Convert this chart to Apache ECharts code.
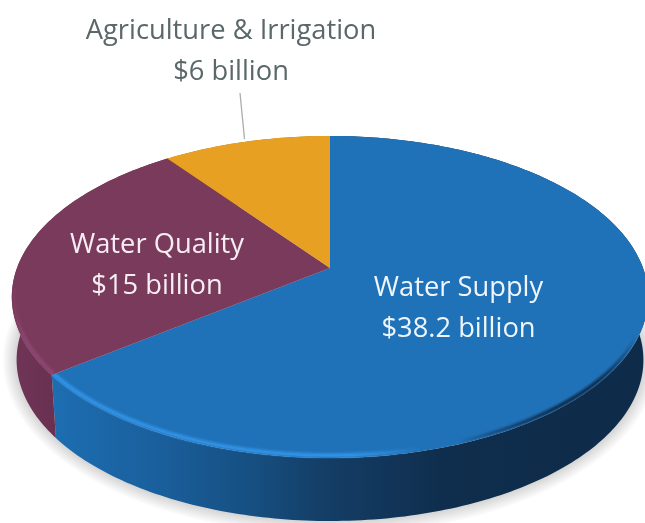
<!DOCTYPE html>
<html>
<head>
<meta charset="utf-8">
<style>html,body{margin:0;padding:0;background:#fff}#chart{width:645px;height:523px}</style>
<script src="https://cdn.jsdelivr.net/npm/echarts@6/dist/echarts.min.js"></script>
</head>
<body>
<div id="chart"></div>
<script>
// Federal water spending by purpose, in billions of dollars
const categories = ['Water Supply', 'Water Quality', 'Agriculture & Irrigation'];
const values = [38.2, 15, 6];

const topColors = ['#2072b8', '#7a3a5c', '#e8a022'];
const labelColors = ['#eef5fb', '#f6eef3', '#5b6869'];
const labelAnchors = [[458.5, 309], [157, 266], [231, 52]];

// Disc seen in perspective: a circle mapped through a projective divide
const APEX = [330, 268];
const SPREAD_X = 313, SPREAD_Y = 155.8, TILT = 0.18;
const WALL_DEPTH = 63, WALL_SHRINK = 0.985;

const total = values.reduce((a, b) => a + b, 0);
const spans = [];
values.reduce((start, v) => {
  const end = start + v / total * Math.PI * 2;
  spans.push([start, end]);
  return end;
}, 0);

function rimPoint(theta) {
  const w = 1 + TILT * Math.cos(theta);
  return [APEX[0] + SPREAD_X * Math.sin(theta) / w, APEX[1] - SPREAD_Y * Math.cos(theta) / w];
}
function floorPoint(theta) {
  const p = rimPoint(theta);
  return [APEX[0] + (p[0] - APEX[0]) * WALL_SHRINK, p[1] + WALL_DEPTH];
}
// Rim pulled slightly towards the centre, used for the bevel strokes
function bevelPoint(theta) {
  const p = rimPoint(theta);
  return [p[0] + (APEX[0] - p[0]) * 0.006, p[1] + (APEX[1] - p[1]) * 0.014];
}
function arc(a, b, fn) {
  const pts = [], n = Math.max(8, Math.ceil((b - a) * 60));
  for (let i = 0; i <= n; i++) pts.push(fn(a + (b - a) * i / n));
  return pts;
}
function band(x0, x1, stops) {
  return {
    type: 'linear', x: x0, y: 0, x2: x1, y2: 0, global: true,
    colorStops: stops.map(s => ({ offset: s[0], color: s[1] }))
  };
}

const wallFills = [
  band(50, 645, [[0, '#1d6eb2'], [0.17, '#1a609e'], [0.34, '#164f81'], [0.45, '#143f68'], [0.67, '#0f2d4c'], [1, '#0e2b49']]),
  band(10, 60, [[0, '#6f3657'], [1, '#692f50']]),
  band(160, 330, [[0, '#b87d18'], [1, '#b87d18']])
];
// Bevel colours per slice; only the slices on the near side of the disc have one
const bevels = [
  { from: Math.PI * 0.62, to: spans[0][1],
    paint: a => band(55, 645, [
      [0, `rgba(50,148,232,${a})`], [0.5, `rgba(50,148,232,${a})`], [0.62, 'rgba(50,148,232,0)'],
      [0.68, 'rgba(14,44,76,0)'], [0.85, `rgba(14,44,76,${a})`], [0.92, `rgba(14,44,76,${a})`], [0.985, 'rgba(14,44,76,0)']
    ]) },
  { from: spans[1][0], to: Math.PI * 1.46,
    paint: a => band(12, 60, [[0, 'rgba(142,70,113,0)'], [0.3, `rgba(142,70,113,${a})`], [1, `rgba(142,70,113,${a})`]]) },
  null
];

function renderWall(params) {
  const i = params.dataIndex, s = spans[i];
  const children = [];
  if (i === 0) {
    // Ground shadow built from stacked, widening translucent outlines
    const base = arc(0, Math.PI * 2, floorPoint);
    for (let step = 8; step >= 1; step--) {
      const grow = step * 1.7;
      children.push({
        type: 'polygon',
        shape: { points: base.map(p => [
          APEX[0] + (p[0] - APEX[0]) * (1 + grow / 313),
          APEX[1] + WALL_DEPTH + 29 + (p[1] - APEX[1] - WALL_DEPTH - 29) * (1 + grow / 163)
        ]) },
        style: { fill: 'rgba(40,40,36,0.022)' }
      });
    }
  }
  const outer = arc(s[0], s[1], rimPoint);
  const inner = arc(s[0], s[1], floorPoint).reverse();
  children.push({
    type: 'polygon',
    shape: { points: outer.concat(inner) },
    style: { fill: wallFills[i] }
  });
  return { type: 'group', children };
}

function renderTop(params) {
  const i = params.dataIndex, s = spans[i];
  const children = [{
    type: 'polygon',
    shape: { points: [APEX].concat(arc(s[0], s[1], rimPoint)) },
    style: { fill: topColors[i] }
  }];
  const bevel = bevels[i];
  if (bevel) {
    const pts = arc(bevel.from, bevel.to, bevelPoint);
    [[7, 0.22], [4.5, 0.4], [2.2, 0.75]].forEach(([w, a]) => {
      children.push({
        type: 'polyline',
        shape: { points: pts },
        style: { fill: 'none', stroke: bevel.paint(a), lineWidth: w }
      });
    });
  }
  return { type: 'group', children };
}

function renderLabel(params) {
  const i = params.dataIndex, a = labelAnchors[i];
  const children = [{
    type: 'text',
    x: a[0], y: a[1],
    style: {
      text: categories[i] + '\n$' + values[i] + ' billion',
      fontFamily: '"Open Sans"',
      fontSize: 27.3,
      lineHeight: 41,
      fill: labelColors[i],
      align: 'center',
      verticalAlign: 'middle'
    }
  }];
  if (i === 2) {
    children.push({
      type: 'line',
      shape: { x1: 240, y1: 93, x2: 244.5, y2: 139 },
      style: { stroke: '#a9adad', lineWidth: 1.3 }
    });
  }
  return { type: 'group', children };
}

const chart = echarts.init(document.getElementById('chart'), null, { renderer: 'canvas' });
chart.setOption({
  animation: false,
  backgroundColor: '#ffffff',
  series: [
    { type: 'custom', coordinateSystem: 'none', z: 1, data: values, renderItem: renderWall, silent: true },
    { type: 'custom', coordinateSystem: 'none', z: 2, data: values, renderItem: renderTop, silent: true },
    { type: 'custom', coordinateSystem: 'none', z: 3, data: values, renderItem: renderLabel, silent: true }
  ]
});
</script>
</body>
</html>
